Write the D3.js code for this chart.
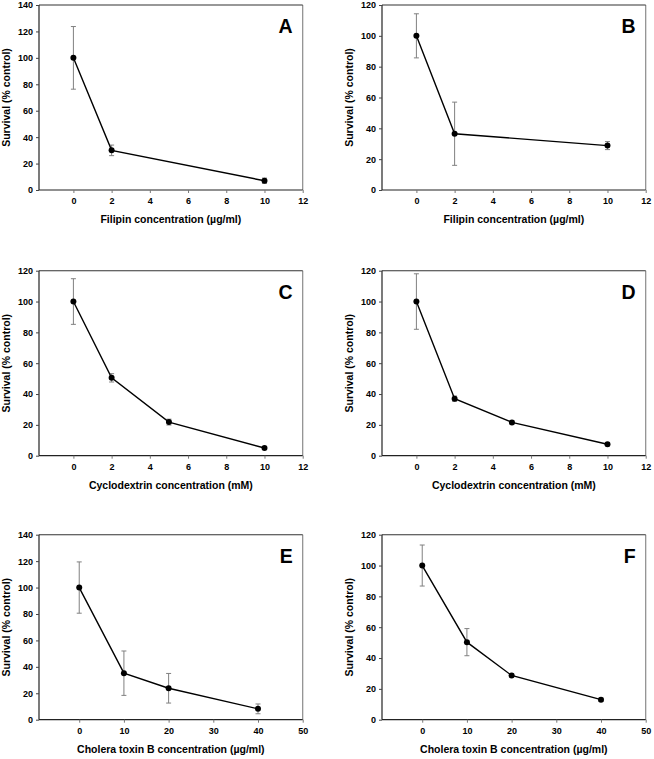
<!DOCTYPE html>
<html>
<head>
<meta charset="utf-8">
<script src="https://cdn.jsdelivr.net/npm/d3@7"></script>
<style>
  html, body { margin: 0; padding: 0; background: #fff; }
  svg { display: block; }
  text { font-family: "Liberation Sans", Arial, sans-serif; font-weight: bold; fill: #000; }
</style>
</head>
<body>
<svg id="chart" width="654" height="759"></svg>
<script>
// ---- Data ----
const panelLetters = ["A", "B", "C", "D", "E", "F"];

const xLabelFilipin = "Filipin concentration (µg/ml)";
const xLabelCyclo = "Cyclodextrin concentration (mM)";
const xLabelCholera = "Cholera toxin B concentration (µg/ml)";
const yLabel = "Survival (% control)";

const xA = [0, 2, 10];
const yA = [100, 30, 7];
const eA = [23.7, 4, 2];

const xB = [0, 2, 10];
const yB = [100, 36.5, 28.8];
const eB = [14.3, 20.5, 2.6];

const xC = [0, 2, 5, 10];
const yC = [100, 50.5, 21.8, 5];
const eC = [14.8, 2.7, 1.9, 0.6];

const xD = [0, 2, 5, 10];
const yD = [100, 37, 21.6, 7.4];
const eD = [18, 1.7, 1, 1];

const xE = [0, 10, 20, 40];
const yE = [100, 35.2, 23.8, 8.2];
const eE = [19.4, 16.8, 11.2, 3.7];

const xF = [0, 10, 20, 40];
const yF = [100, 50.3, 28.7, 13];
const eF = [13.3, 8.8, 1, 1];

const xTicksSmall = [0, 2, 4, 6, 8, 10, 12];
const xTicksCholera = [0, 10, 20, 30, 40, 50];
const yTicks140 = [0, 20, 40, 60, 80, 100, 120, 140];
const yTicks120 = [0, 20, 40, 60, 80, 100, 120];

const panels = [
  { letter: panelLetters[0], x: xA, y: yA, e: eA, xTicks: xTicksSmall, yTicks: yTicks140, xDom: [-1.8, 12], yDom: [0, 140], xLabel: xLabelFilipin },
  { letter: panelLetters[1], x: xB, y: yB, e: eB, xTicks: xTicksSmall, yTicks: yTicks120, xDom: [-1.8, 12], yDom: [0, 120], xLabel: xLabelFilipin },
  { letter: panelLetters[2], x: xC, y: yC, e: eC, xTicks: xTicksSmall, yTicks: yTicks120, xDom: [-1.8, 12], yDom: [0, 120], xLabel: xLabelCyclo },
  { letter: panelLetters[3], x: xD, y: yD, e: eD, xTicks: xTicksSmall, yTicks: yTicks120, xDom: [-1.8, 12], yDom: [0, 120], xLabel: xLabelCyclo },
  { letter: panelLetters[4], x: xE, y: yE, e: eE, xTicks: xTicksCholera, yTicks: yTicks140, xDom: [-9, 50], yDom: [0, 140], xLabel: xLabelCholera },
  { letter: panelLetters[5], x: xF, y: yF, e: eF, xTicks: xTicksCholera, yTicks: yTicks120, xDom: [-9, 50], yDom: [0, 120], xLabel: xLabelCholera }
];

// ---- Layout ----
const colLeft = [39, 382];
const plotW = 263.7;
const rowTop = [5, 270.7, 534.7];
const plotH = 185;

const svg = d3.select("#chart");

panels.forEach((p, i) => {
  const col = i % 2, row = Math.floor(i / 2);
  const L = colLeft[col], T = rowTop[row];
  const g = svg.append("g").attr("transform", `translate(${L},${T})`);

  const xs = d3.scaleLinear().domain(p.xDom).range([0, plotW]);
  const ys = d3.scaleLinear().domain(p.yDom).range([plotH, 0]);

  // frame: right and top
  g.append("line").attr("x1", plotW).attr("x2", plotW).attr("y1", 0).attr("y2", plotH)
    .attr("stroke", "#8a8a8a").attr("stroke-width", 1.2);
  g.append("line").attr("x1", 0).attr("x2", plotW).attr("y1", 0).attr("y2", 0)
    .attr("stroke", "#333").attr("stroke-width", 1.1);

  // axes
  const xAxis = d3.axisBottom(xs).tickValues(p.xTicks).tickSize(3).tickPadding(5).tickSizeOuter(0);
  const gx = g.append("g").attr("transform", `translate(0,${plotH})`).call(xAxis);
  gx.select(".domain").attr("stroke", "#222").attr("stroke-width", 1.2).attr("d", `M0,0H${plotW}`);
  gx.selectAll(".tick line").attr("stroke", "#777");
  gx.selectAll(".tick text").attr("font-size", 9).attr("font-family", "Liberation Sans, Arial, sans-serif").attr("font-weight", "bold");

  const yAxis = d3.axisLeft(ys).tickValues(p.yTicks).tickSize(3).tickPadding(3).tickSizeOuter(0);
  const gy = g.append("g").call(yAxis);
  gy.select(".domain").attr("stroke", "#222").attr("stroke-width", 1.2).attr("d", `M0,0V${plotH}`);
  gy.selectAll(".tick line").attr("stroke", "#444");
  gy.selectAll(".tick text").attr("font-size", 9).attr("font-family", "Liberation Sans, Arial, sans-serif").attr("font-weight", "bold");

  const pts = p.x.map((xv, k) => ({ x: xv, y: p.y[k], e: p.e[k] }));

  // error bars
  const eb = g.append("g").attr("stroke", "#808080").attr("stroke-width", 1);
  pts.forEach(d => {
    const cx = xs(d.x);
    eb.append("line").attr("x1", cx).attr("x2", cx).attr("y1", ys(d.y + d.e)).attr("y2", ys(d.y - d.e));
    eb.append("line").attr("x1", cx - 2.5).attr("x2", cx + 2.5).attr("y1", ys(d.y + d.e)).attr("y2", ys(d.y + d.e));
    eb.append("line").attr("x1", cx - 2.5).attr("x2", cx + 2.5).attr("y1", ys(d.y - d.e)).attr("y2", ys(d.y - d.e));
  });

  // line
  const line = d3.line().x(d => xs(d.x)).y(d => ys(d.y));
  g.append("path").datum(pts).attr("d", line).attr("fill", "none").attr("stroke", "#000").attr("stroke-width", 1.4);

  // markers
  g.selectAll("circle.pt").data(pts).enter().append("circle")
    .attr("cx", d => xs(d.x)).attr("cy", d => ys(d.y)).attr("r", 3).attr("fill", "#000");

  // panel letter
  g.append("text").attr("x", plotW - 10).attr("y", 28).attr("text-anchor", "end")
    .attr("font-size", 19.5).text(p.letter);

  // axis titles
  g.append("text").attr("x", plotW / 2).attr("y", plotH + 33).attr("text-anchor", "middle")
    .attr("font-size", 10.5).text(p.xLabel);
  g.append("text").attr("transform", `translate(-29,${plotH / 2}) rotate(-90)`).attr("text-anchor", "middle")
    .attr("font-size", 10.5).text(yLabel);
});
</script>
</body>
</html>
